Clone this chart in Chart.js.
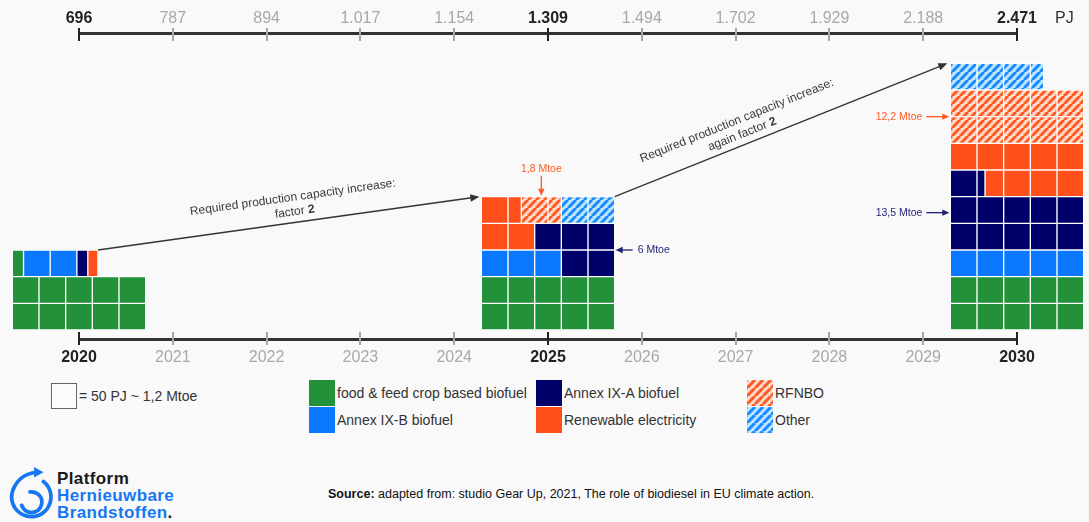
<!DOCTYPE html>
<html>
<head>
<meta charset="utf-8">
<script src="https://cdn.jsdelivr.net/npm/chart.js@4.4.1/dist/chart.umd.min.js"></script>
<style>
  html, body { margin: 0; padding: 0; width: 1089px; height: 522px; overflow: hidden;
    background: #f9f9f9; font-family: 'Liberation Sans', Arial, Helvetica, sans-serif; }
  #wrap { position: absolute; left: 0; top: 0; width: 1089px; height: 375px; }
  .lg { position: absolute; height: 26px; display: flex; align-items: center;
    font-size: 14px; color: #333; white-space: nowrap; }
  .sw { width: 26px; height: 26px; margin-right: 2px; flex: none; }
  #unit { position: absolute; left: 51px; top: 382px; height: 27px; display: flex; align-items: center;
    font-size: 14px; color: #333; white-space: nowrap; }
  #unit .box { width: 24px; height: 24px; border: 1.5px solid #666; background: #fbfbfb; margin-right: 2px; }
  #source { position: absolute; left: 328px; top: 487px; font-size: 12.5px; line-height: 14px; color: #111; white-space: nowrap; }
  #logo-text { position: absolute; left: 57px; top: 470px; font-size: 17px; line-height: 17px;
    font-weight: bold; letter-spacing: 0.4px; color: #1677f2; }
  #logo-text .k { color: #1a1a1a; }
</style>
</head>
<body>
<div id="wrap"><canvas id="chart" width="1089" height="375"></canvas></div>

<div id="unit"><div class="box"></div><span>= 50 PJ ~ 1,2 Mtoe</span></div>
<div id="legend"></div>

<svg id="logo-mark" width="54" height="60" style="position:absolute;left:3px;top:464px" viewBox="0 0 52 58">
  <g fill="none" stroke="#1677f2" stroke-width="3.6" stroke-linecap="round">
    <path d="M 10 24 A 19 19 0 1 0 39 17"/>
    <path d="M 10 24 Q 16 10 32 8"/>
    <path d="M 26 27 A 10 10 0 1 1 18 40"/>
  </g>
  <path d="M 30 3 L 39 8 L 30 13 Z" fill="#1677f2"/>
</svg>
<div id="logo-text">
  <div class="k">Platform</div>
  <div>Hernieuwbare</div>
  <div>Brandstoffen<span class="k">.</span></div>
</div>

<div id="source"><b>Source:</b> adapted from: studio Gear Up, 2021, The role of biodiesel in EU climate action.</div>

<script>
// ---- data -------------------------------------------------------------
const years = [2020, 2021, 2022, 2023, 2024, 2025, 2026, 2027, 2028, 2029, 2030];
const pjLabels = ['696', '787', '894', '1.017', '1.154', '1.309', '1.494', '1.702', '1.929', '2.188', '2.471'];
const snapshotYears = [2020, 2025, 2030];
const categories = [
  'food & feed crop based biofuel',
  'Annex IX-B biofuel',
  'Annex IX-A biofuel',
  'Renewable electricity',
  'RFNBO',
  'Other'
];

// One cell = 50 PJ. Each block is listed row by row, bottom row first,
// as [category index, number of cells] runs from left to right.
const cells2020 = [
  [[0, 5]],
  [[0, 5]],
  [[0, 0.42], [1, 2], [2, 0.41], [3, 0.38]]
];
const cells2025 = [
  [[0, 5]],
  [[0, 5]],
  [[1, 3], [2, 2]],
  [[3, 2], [2, 3]],
  [[3, 1.5], [4, 1.5], [5, 2]]
];
const cells2030 = [
  [[0, 5]],
  [[0, 5]],
  [[1, 5]],
  [[2, 5]],
  [[2, 5]],
  [[2, 1.3], [3, 0.7], [3, 3]],
  [[3, 5]],
  [[4, 5]],
  [[4, 5]],
  [[5, 3.5]]
];
const blocks = [cells2020, cells2025, cells2030];

const mtoeLabels = ['1,8 Mtoe', '6 Mtoe', '12,2 Mtoe', '13,5 Mtoe'];
const arrowCaptions = [
  ['Required production capacity increase:', 'factor ', '2'],
  ['Required production capacity increase:', 'again factor ', '2']
];

// ---- styling ----------------------------------------------------------
const FONT = "'Liberation Sans', Arial, Helvetica, sans-serif";
const GREEN = '#22913a', BLUE = '#0a78ff', NAVY = '#00006b', ORANGE = '#ff4f1a';
const NAVY_TXT = '#1f1f78', ORANGE_TXT = '#ff5a22';
const CELL = 0.2843;        // width of one square cell, in years along the x axis
const COLS = 5;             // cells per row

function stripeTile(bg, fg) {
  const P = 8;
  const c = document.createElement('canvas');
  c.width = P; c.height = P;
  const g = c.getContext('2d');
  g.fillStyle = bg; g.fillRect(0, 0, P, P);
  g.strokeStyle = fg; g.lineWidth = 3;
  g.beginPath();
  for (const o of [-P, 0, P]) { g.moveTo(o, P); g.lineTo(o + P, 0); }
  g.stroke();
  return c;
}
const rfnboTile = stripeTile('#ffdccd', '#ff5a22');
const otherTile = stripeTile('#bfe6ff', '#1a8bff');
const canvas = document.getElementById('chart');
const ctx = canvas.getContext('2d');
const fills = [GREEN, BLUE, NAVY, ORANGE,
  ctx.createPattern(rfnboTile, 'repeat'), ctx.createPattern(otherTile, 'repeat')];
const swatchCss = [GREEN, BLUE, NAVY, ORANGE,
  `url(${rfnboTile.toDataURL()})`, `url(${otherTile.toDataURL()})`];

// ---- turn the block rows into floating bar pieces ----------------------
function blockLeft(year) { return year - COLS / 2 * CELL; }

const pieces = categories.map(() => []);
snapshotYears.forEach((year, k) => {
  const left = blockLeft(year);
  blocks[k].forEach((row, r) => {
    let col = 0;
    row.forEach(([cat, n]) => {
      let rest = n;
      while (rest > 1e-6) {
        const w = Math.min(1, rest);
        pieces[cat].push({ y: r + 0.5, x: [left + col * CELL, left + (col + w) * CELL] });
        col += w; rest -= w;
      }
    });
  });
});

const datasets = categories.map((name, i) => ({
  label: name,
  data: pieces[i],
  backgroundColor: fills[i],
  borderColor: '#ffffff',
  borderWidth: 1,
  borderSkipped: false,
  barPercentage: 1,
  categoryPercentage: 1,
  grouped: false,
  clip: false
}));

// ---- axis helpers -----------------------------------------------------
const isMajor = v => snapshotYears.includes(v);
const tickFont = c => ({ family: FONT, size: 16, weight: c.tick && isMajor(c.tick.value) ? 'bold' : 'normal' });
const tickColor = c => (c.tick && isMajor(c.tick.value) ? '#222222' : '#a8a8a8');
const yearTicks = s => { s.ticks = years.map(v => ({ value: v })); };

// tick marks that cross the axis line
const crossTicks = {
  id: 'crossTicks',
  afterDraw(chart) {
    const c = chart.ctx;
    const specs = [[chart.scales.x, chart.scales.x.top, 7, 6], [chart.scales.x2, chart.scales.x2.bottom, 5, 8]];
    c.save();
    c.lineWidth = 2;
    for (const [s, y0, up, down] of specs) {
      s.ticks.forEach((t, i) => {
        const px = Math.round(s.getPixelForTick(i));
        c.strokeStyle = isMajor(t.value) ? '#222222' : '#a8a8a8';
        c.beginPath(); c.moveTo(px, y0 - up); c.lineTo(px, y0 + down); c.stroke();
      });
    }
    // unit of the top axis
    const s2 = chart.scales.x2;
    c.fillStyle = '#333'; c.font = `16px ${FONT}`;
    c.textAlign = 'left'; c.textBaseline = 'middle';
    c.fillText('PJ', s2.right + 38, 19);
    c.restore();
  }
};

// arrows and value call-outs
function arrowHead(c, x1, y1, x2, y2, len, half) {
  const a = Math.atan2(y2 - y1, x2 - x1);
  c.beginPath();
  c.moveTo(x2, y2);
  c.lineTo(x2 - len * Math.cos(a) + half * Math.sin(a), y2 - len * Math.sin(a) - half * Math.cos(a));
  c.lineTo(x2 - len * Math.cos(a) - half * Math.sin(a), y2 - len * Math.sin(a) + half * Math.cos(a));
  c.closePath(); c.fill();
}
function pointer(c, x1, y1, x2, y2, color) {
  c.strokeStyle = color; c.fillStyle = color; c.lineWidth = 1.3;
  const a = Math.atan2(y2 - y1, x2 - x1);
  c.beginPath(); c.moveTo(x1, y1); c.lineTo(x2 - 5 * Math.cos(a), y2 - 5 * Math.sin(a)); c.stroke();
  arrowHead(c, x1, y1, x2, y2, 7, 3.2);
}

const callouts = {
  id: 'callouts',
  afterDraw(chart) {
    const c = chart.ctx, xs = chart.scales.x, ys = chart.scales.y;
    const cellPx = xs.getPixelForValue(2020 + CELL) - xs.getPixelForValue(2020);
    const geo = snapshotYears.map((year, k) => {
      const rows = blocks[k];
      const top = rows[rows.length - 1];
      const used = top.reduce((s, [, n]) => s + n, 0);
      return {
        left: xs.getPixelForValue(blockLeft(year)),
        right: xs.getPixelForValue(blockLeft(year) + COLS * CELL),
        topRight: xs.getPixelForValue(blockLeft(year) + used * CELL),
        top: ys.getPixelForValue(rows.length),
        topRow: top
      };
    });

    c.save();
    // growth arrows between the blocks
    const growth = [
      { from: [geo[0].topRight, geo[0].top], to: [geo[1].left - 2, geo[1].top], at: 0.52, cap: arrowCaptions[0] },
      { from: [geo[1].topRight, geo[1].top], to: [geo[2].left - 3, geo[2].top], at: 0.395, cap: arrowCaptions[1] }
    ];
    for (const g of growth) {
      const [x1, y1] = g.from, [x2, y2] = g.to;
      c.strokeStyle = '#333'; c.fillStyle = '#333'; c.lineWidth = 1.3;
      const a = Math.atan2(y2 - y1, x2 - x1);
      c.beginPath(); c.moveTo(x1, y1); c.lineTo(x2 - 6 * Math.cos(a), y2 - 6 * Math.sin(a)); c.stroke();
      arrowHead(c, x1, y1, x2, y2, 9, 3.8);

      const mx = x1 + (x2 - x1) * g.at, my = y1 + (y2 - y1) * g.at;
      c.translate(mx, my); c.rotate(a);
      c.textAlign = 'center'; c.textBaseline = 'middle'; c.fillStyle = '#3a3a3a';
      c.font = `12px ${FONT}`;
      c.fillText(g.cap[0], 0, -25);
      const wN = c.measureText(g.cap[1]).width;
      c.font = `bold 12px ${FONT}`;
      const wB = c.measureText(g.cap[2]).width;
      c.textAlign = 'left';
      c.font = `12px ${FONT}`;
      c.fillText(g.cap[1], -(wN + wB) / 2, -10.5);
      c.font = `bold 12px ${FONT}`;
      c.fillText(g.cap[2], -(wN + wB) / 2 + wN, -10.5);
      c.setTransform(1, 0, 0, 1, 0, 0);
    }

    c.font = `10.5px ${FONT}`;
    c.textBaseline = 'middle';
    // RFNBO share in 2025: label above its run in the top row
    let off = 0, mid = 0;
    for (const [cat, n] of geo[1].topRow) { if (cat === 4) mid = off + n / 2; off += n; }
    const rx = geo[1].left + mid * cellPx;
    c.fillStyle = ORANGE_TXT; c.textAlign = 'center';
    c.fillText(mtoeLabels[0], rx, geo[1].top - 28);
    pointer(c, rx, geo[1].top - 21, rx, geo[1].top - 1, ORANGE_TXT);

    // Annex IX-A in 2025
    const ny = ys.getPixelForValue(3);
    c.fillStyle = NAVY_TXT; c.textAlign = 'left';
    c.fillText(mtoeLabels[1], geo[1].right + 23, ny);
    pointer(c, geo[1].right + 18, ny, geo[1].right + 1, ny, NAVY_TXT);

    // 2030 call-outs on the left of the block
    const oy = ys.getPixelForValue(8), ay = ys.getPixelForValue(4.4);
    c.textAlign = 'right';
    c.fillStyle = ORANGE_TXT;
    c.fillText(mtoeLabels[2], geo[2].left - 28, oy);
    pointer(c, geo[2].left - 24, oy, geo[2].left - 1, oy, ORANGE_TXT);
    c.fillStyle = NAVY_TXT;
    c.fillText(mtoeLabels[3], geo[2].left - 28, ay);
    pointer(c, geo[2].left - 24, ay, geo[2].left - 1, ay, NAVY_TXT);
    c.restore();
  }
};

new Chart(ctx, {
  type: 'bar',
  data: { datasets },
  options: {
    indexAxis: 'y',
    responsive: false,
    animation: false,
    events: [],
    devicePixelRatio: 1,
    layout: { padding: { left: 79, right: 72, top: 0, bottom: 0 } },
    plugins: { legend: { display: false }, tooltip: { enabled: false } },
    scales: {
      x: {
        type: 'linear', position: 'bottom', min: 2020, max: 2030, offset: false,
        afterBuildTicks: yearTicks,
        afterFit: s => { s.height = 36; },
        border: { display: true, color: '#333333', width: 3 },
        grid: { drawOnChartArea: false, drawTicks: true, tickLength: 7, color: 'rgba(0,0,0,0)' },
        ticks: { autoSkip: false, maxRotation: 0, padding: 1.5, font: tickFont, color: tickColor,
          callback: v => String(v) }
      },
      x2: {
        type: 'linear', position: 'top', min: 2020, max: 2030, offset: false,
        afterBuildTicks: yearTicks,
        afterFit: s => { s.height = 33; },
        border: { display: true, color: '#333333', width: 3 },
        grid: { drawOnChartArea: false, drawTicks: true, tickLength: 5, color: 'rgba(0,0,0,0)' },
        ticks: { autoSkip: false, maxRotation: 0, padding: 0, font: tickFont, color: tickColor,
          callback: v => pjLabels[years.indexOf(v)] }
      },
      y: {
        type: 'linear', display: false, offset: false, min: -0.3375, max: 11.1375,
        grid: { offset: false },
        ticks: { stepSize: 1, includeBounds: false }
      }
    }
  },
  plugins: [crossTicks, callouts]
});

// ---- legend -----------------------------------------------------------
const legendCols = [309, 536, 747];
const legendRows = [380, 407];
const legend = document.getElementById('legend');
categories.forEach((name, i) => {
  const item = document.createElement('div');
  item.className = 'lg';
  item.style.left = legendCols[Math.floor(i / 2)] + 'px';
  item.style.top = legendRows[i % 2] + 'px';
  const sw = document.createElement('div');
  sw.className = 'sw';
  sw.style.background = swatchCss[i];
  const label = document.createElement('span');
  label.textContent = name;
  item.appendChild(sw); item.appendChild(label);
  legend.appendChild(item);
});
</script>
</body>
</html>
